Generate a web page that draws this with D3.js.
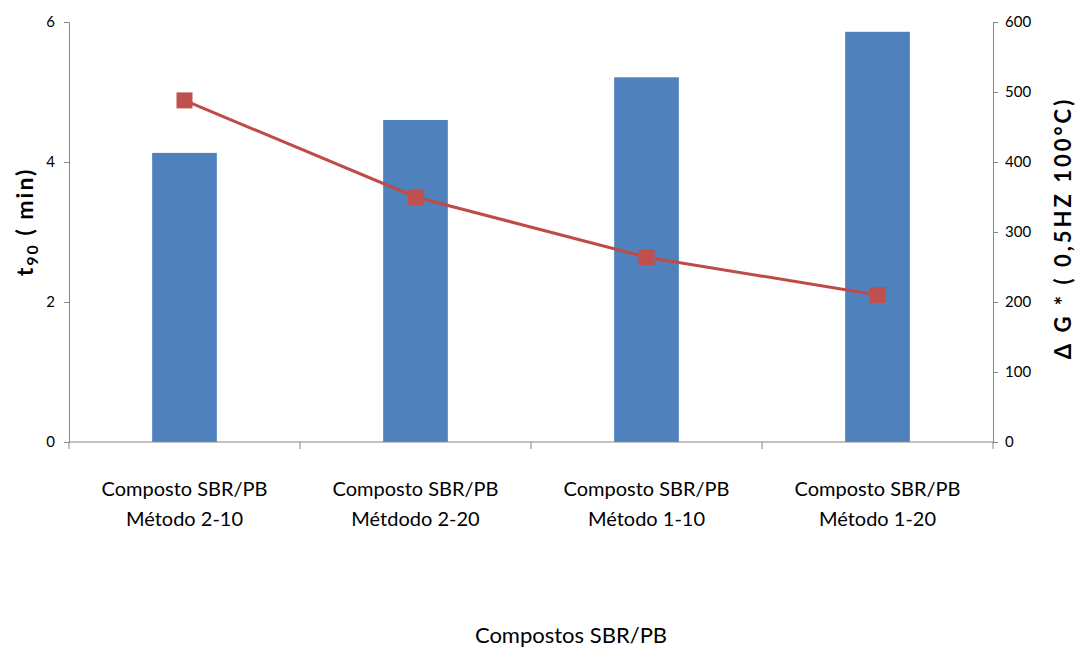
<!DOCTYPE html>
<html>
<head>
<meta charset="utf-8">
<script src="https://cdn.jsdelivr.net/npm/d3@7"></script>
<style>
  html, body { margin: 0; padding: 0; background: #fff; }
  svg { display: block; }
  text { font-family: Lato, "Open Sans", sans-serif; fill: #000; }
</style>
</head>
<body>
<svg id="chart" width="1077" height="651"></svg>
<script>
// Compounds on the x axis (two-line labels)
const categories = ["Método 2-10", "Métdodo 2-20", "Método 1-10", "Método 1-20"];
const categoryPrefix = "Composto SBR/PB";
// t90 cure time (min), left axis
const t90Values = [4.13, 4.60, 5.21, 5.86];
// ΔG* (0,5 Hz, 100 °C), right axis
const deltaGValues = [488, 350, 264, 210];
const leftTicks = [0, 2, 4, 6];
const rightTicks = [0, 100, 200, 300, 400, 500, 600];

const svg = d3.select("#chart");
const plotLeft = 69, plotRight = 993, plotTop = 22, plotBottom = 442;

const x = d3.scaleBand()
  .domain(categories)
  .range([plotLeft, plotRight])
  .paddingInner(0.72)
  .paddingOuter(0.36);

const yL = d3.scaleLinear().domain([0, 6]).range([plotBottom, plotTop]);
const yR = d3.scaleLinear().domain([0, 600]).range([plotBottom, plotTop]);

const axisColor = "#868686";

// Bars (t90)
svg.append("g").selectAll("rect")
  .data(categories)
  .join("rect")
  .attr("x", d => x(d))
  .attr("width", x.bandwidth())
  .attr("y", (d, i) => yL(t90Values[i]))
  .attr("height", (d, i) => yL(0) - yL(t90Values[i]))
  .attr("fill", "#4f81bd");

// Left axis
const gL = svg.append("g").attr("transform", `translate(${plotLeft},0)`)
  .call(d3.axisLeft(yL).tickValues(leftTicks).tickFormat(d3.format("d")).tickSize(5).tickPadding(9));
// Right axis
const gR = svg.append("g").attr("transform", `translate(${plotRight},0)`)
  .call(d3.axisRight(yR).tickValues(rightTicks).tickSize(5).tickPadding(7));

// Bottom axis: ticks at category boundaries
const boundaries = d3.range(categories.length + 1).map(i => plotLeft + i * x.step());
const gB = svg.append("g");
gB.append("line").attr("x1", plotLeft).attr("x2", plotRight).attr("y1", plotBottom).attr("y2", plotBottom);
gB.selectAll("line.tick").data(boundaries).join("line").attr("class", "tick")
  .attr("x1", d => d).attr("x2", d => d).attr("y1", plotBottom).attr("y2", plotBottom + 7);
gB.selectAll("line").attr("stroke", axisColor).attr("stroke-width", 1);

[gL, gR].forEach(g => {
  g.select(".domain").attr("stroke", axisColor);
  g.selectAll(".tick line").attr("stroke", axisColor);
  g.selectAll(".tick text").attr("font-size", 15).attr("font-family", "Lato, sans-serif").attr("fill", "#000");
});

// Category labels
const labels = svg.append("g").selectAll("text")
  .data(categories)
  .join("text")
  .attr("text-anchor", "middle")
  .attr("font-size", 20)
  .attr("x", d => x(d) + x.bandwidth() / 2);
labels.append("tspan").attr("y", 496).text(categoryPrefix).attr("x", d => x(d) + x.bandwidth() / 2);
labels.append("tspan").attr("y", 526).text(d => d).attr("x", d => x(d) + x.bandwidth() / 2);

// ΔG* line with square markers
const cx = d => x(d) + x.bandwidth() / 2;
const line = d3.line().x(d => cx(d)).y((d, i) => yR(deltaGValues[i]));
svg.append("path")
  .datum(categories)
  .attr("d", line)
  .attr("fill", "none")
  .attr("stroke", "#be4b48")
  .attr("stroke-width", 3);
const m = 16;
svg.append("g").selectAll("rect")
  .data(categories)
  .join("rect")
  .attr("x", d => cx(d) - m / 2)
  .attr("y", (d, i) => yR(deltaGValues[i]) - m / 2)
  .attr("width", m).attr("height", m)
  .attr("fill", "#c0504d");

// Axis titles
const tL = svg.append("text")
  .attr("transform", "translate(33,222) rotate(-90)")
  .attr("text-anchor", "middle")
  .attr("font-family", "'Open Sans', sans-serif")
  .attr("font-size", 23)
  .attr("letter-spacing", 2)
  .attr("font-weight", "bold");
tL.append("tspan").text("t");
tL.append("tspan").text("90").attr("font-size", 16).attr("dy", 5);
tL.append("tspan").text(" ( min)").attr("dy", -5);

svg.append("text")
  .attr("transform", "translate(1071,228) rotate(-90)")
  .attr("text-anchor", "middle")
  .attr("font-family", "'Open Sans', sans-serif")
  .attr("font-size", 22)
  .attr("letter-spacing", 3)
  .attr("font-weight", "bold")
  .text("Δ G * ( 0,5HZ 100°C)");

svg.append("text")
  .attr("x", 571).attr("y", 643)
  .attr("text-anchor", "middle")
  .attr("font-size", 22)
  .text("Compostos SBR/PB");
</script>
</body>
</html>
